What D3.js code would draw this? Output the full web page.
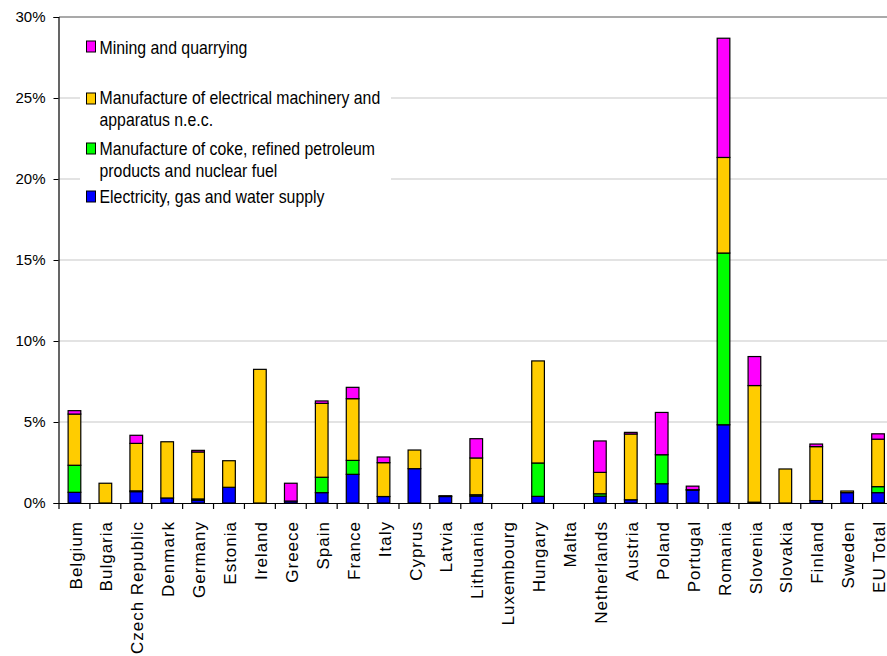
<!DOCTYPE html>
<html>
<head>
<meta charset="utf-8">
<script src="https://cdn.jsdelivr.net/npm/d3@7"></script>
<style>
  html, body { margin: 0; padding: 0; background: #fff; }
  svg { display: block; font-family: "Liberation Sans", Arial, sans-serif; }
</style>
</head>
<body>
<svg id="chart" width="887" height="656"></svg>
<script>
// Countries along the x axis
const countries = ["Belgium", "Bulgaria", "Czech Republic", "Denmark", "Germany", "Estonia",
  "Ireland", "Greece", "Spain", "France", "Italy", "Cyprus", "Latvia", "Lithuania",
  "Luxembourg", "Hungary", "Malta", "Netherlands", "Austria", "Poland", "Portugal",
  "Romania", "Slovenia", "Slovakia", "Finland", "Sweden", "EU Total"];

// Shares (%) per sector, one value per country
const electricity = [0.66, 0, 0.70, 0.31, 0.17, 0.97, 0, 0.12, 0.64, 1.77, 0.40, 2.12, 0.40, 0.43,
  0, 0.41, 0, 0.42, 0.20, 1.19, 0.80, 4.83, 0.05, 0, 0.15, 0.64, 0.64];
const coke = [1.67, 0, 0.05, 0, 0.08, 0, 0, 0, 0.95, 0.86, 0, 0, 0, 0.08,
  0, 2.06, 0, 0.15, 0, 1.79, 0, 10.60, 0, 0, 0, 0, 0.37];
const machinery = [3.16, 1.22, 2.93, 3.47, 2.90, 1.64, 8.25, 0, 4.56, 3.81, 2.09, 1.15, 0.05, 2.27,
  0, 6.30, 0, 1.32, 4.06, 0, 0.02, 5.90, 7.20, 2.10, 3.33, 0.10, 2.93];
const mining = [0.21, 0, 0.50, 0, 0.10, 0, 0, 1.10, 0.15, 0.70, 0.35, 0, 0, 1.19,
  0, 0, 0, 1.94, 0.10, 2.61, 0.22, 7.36, 1.79, 0, 0.16, 0, 0.33];

const yTicks = [0, 5, 10, 15, 20, 25, 30];

// Series, stacked bottom to top
const series = [
  { key: "electricity", label: ["Electricity, gas and water supply"], color: "#0000FF", values: electricity },
  { key: "coke", label: ["Manufacture of coke, refined petroleum", "products and nuclear fuel"], color: "#00FF00", values: coke },
  { key: "machinery", label: ["Manufacture of electrical machinery and", "apparatus n.e.c."], color: "#FFCC00", values: machinery },
  { key: "mining", label: ["Mining and quarrying"], color: "#FF00FF", values: mining }
];

const rows = countries.map((c, i) => {
  const r = { country: c };
  series.forEach(s => { r[s.key] = s.values[i]; });
  return r;
});

const svg = d3.select("#chart");
const plotLeft = 59, plotRight = 893.5, plotTop = 17, plotBottom = 503;

const x = d3.scaleBand().domain(countries).range([plotLeft, plotRight]).paddingInner(0);
const y = d3.scaleLinear().domain([0, 30]).range([plotBottom, plotTop]);

// Gridlines
svg.append("g").selectAll("line")
  .data(yTicks.filter(t => t > 0))
  .join("line")
  .attr("x1", plotLeft).attr("x2", plotRight)
  .attr("y1", d => y(d)).attr("y2", d => y(d))
  .attr("stroke", d => d === 30 ? "#8c8c8c" : "#c8c8c8")
  .attr("stroke-width", d => d === 30 ? 1.6 : 1.2);

// Legend background hides gridlines behind it
svg.append("rect")
  .attr("x", 80).attr("y", 28).attr("width", 311).attr("height", 184)
  .attr("fill", "#fff");

// Stacked bars
const stack = d3.stack().keys(series.map(s => s.key));
const stacked = stack(rows);
const barW = x.bandwidth() * 0.41;

svg.append("g").selectAll("g")
  .data(stacked)
  .join("g")
  .attr("fill", (d, i) => series[i].color)
  .selectAll("rect")
  .data(d => d.filter(p => p[1] - p[0] > 0))
  .join("rect")
  .attr("x", d => x(d.data.country) + (x.bandwidth() - barW) / 2)
  .attr("y", d => y(d[1]))
  .attr("width", barW)
  .attr("height", d => y(d[0]) - y(d[1]))
  .attr("stroke", "#000")
  .attr("stroke-width", 1.2);

// Y axis
const yAxis = d3.axisLeft(y).tickValues(yTicks).tickFormat(d => d + "%").tickSize(5).tickPadding(8);
const gy = svg.append("g").attr("transform", `translate(${plotLeft - 0.5},0)`).call(yAxis);
gy.select(".domain").attr("stroke", "#000").attr("stroke-width", 1.2);
gy.selectAll(".tick line").attr("stroke", "#000");
gy.selectAll(".tick text").attr("font-size", 15).attr("fill", "#000")
  .attr("font-family", "Liberation Sans, Arial, sans-serif");

// X axis with ticks at category boundaries
svg.append("line")
  .attr("x1", plotLeft - 0.5).attr("x2", plotRight)
  .attr("y1", plotBottom + 0.5).attr("y2", plotBottom + 0.5)
  .attr("stroke", "#000").attr("stroke-width", 1.2);
svg.append("g").selectAll("line")
  .data(countries.concat(["__end"]))
  .join("line")
  .attr("x1", (d, i) => plotLeft + i * x.bandwidth())
  .attr("x2", (d, i) => plotLeft + i * x.bandwidth())
  .attr("y1", plotBottom).attr("y2", plotBottom + 6)
  .attr("stroke", "#000").attr("stroke-width", 1.2);

svg.append("g").selectAll("text")
  .data(countries)
  .join("text")
  .attr("transform", d => `translate(${x(d) + x.bandwidth() / 2 + 1},521) rotate(-90)`)
  .attr("text-anchor", "end")
  .attr("dy", "0.36em")
  .attr("font-size", 17)
  .attr("letter-spacing", 1)
  .attr("fill", "#000")
  .text(d => d);

// Legend
const legendItems = [
  { s: series[3], y0: 41, baselines: [53.5] },
  { s: series[2], y0: 93, baselines: [103.5, 125.5] },
  { s: series[1], y0: 143, baselines: [154.5, 176.5] },
  { s: series[0], y0: 191, baselines: [203.3] }
];
const lg = svg.append("g");
legendItems.forEach(it => {
  lg.append("rect")
    .attr("x", 86.5).attr("y", it.y0).attr("width", 9).attr("height", 11)
    .attr("fill", it.s.color).attr("stroke", "#000").attr("stroke-width", 1);
  it.s.label.forEach((line, j) => {
    lg.append("text")
      .attr("transform", `translate(99.5,${it.baselines[j]}) scale(0.9,1)`)
      .attr("font-size", 17.6)
      .attr("fill", "#000")
      .text(line);
  });
});
</script>
</body>
</html>
